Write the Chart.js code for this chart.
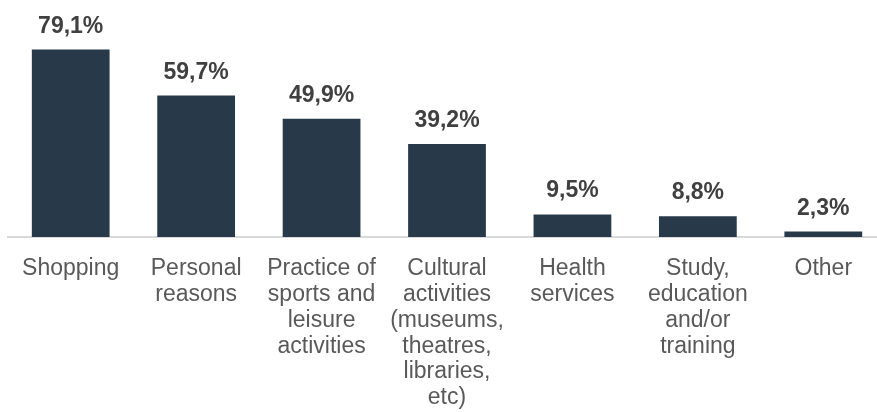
<!DOCTYPE html>
<html lang="en">
  <head>
    <meta charset="UTF-8">
    <title>Reasons</title>
    <script src="https://cdn.jsdelivr.net/npm/chart.js"></script>
    <style>
      html, body { margin: 0; padding: 0; background: #fff; overflow: hidden; }
      .chart-container { width: 886px; height: 412px; }
    </style>
  </head>
  <body>
    <div class="chart-container">
      <canvas id="reasonChart"></canvas>
    </div>
    <script>
      const categories = [
        ['Shopping'],
        ['Personal', 'reasons'],
        ['Practice of', 'sports and', 'leisure', 'activities'],
        ['Cultural', 'activities', '(museums,', 'theatres,', 'libraries,', 'etc)'],
        ['Health', 'services'],
        ['Study,', 'education', 'and/or', 'training'],
        ['Other']
      ];
      const shares = [79.1, 59.7, 49.9, 39.2, 9.5, 8.8, 2.3];

      // value labels above each bar, comma decimal
      const valueLabels = {
        id: 'valueLabels',
        afterDatasetsDraw(chart) {
          const ctx = chart.ctx;
          const meta = chart.getDatasetMeta(0);
          ctx.save();
          ctx.font = 'bold 23px "Liberation Sans", Arial, sans-serif';
          ctx.fillStyle = '#404040';
          ctx.textAlign = 'center';
          ctx.textBaseline = 'alphabetic';
          meta.data.forEach((bar, i) => {
            const txt = shares[i].toFixed(1).replace('.', ',') + '%';
            ctx.fillText(txt, bar.x, bar.y - 17);
          });
          ctx.restore();
        }
      };

      const ctx = document.getElementById('reasonChart').getContext('2d');
      new Chart(ctx, {
        type: 'bar',
        data: {
          labels: categories,
          datasets: [{
            data: shares,
            backgroundColor: '#283a4a',
            barPercentage: 0.62,
            categoryPercentage: 1
          }]
        },
        options: {
          responsive: true,
          maintainAspectRatio: false,
          animation: false,
          layout: { padding: { left: 8, right: 0, top: 0, bottom: 0 } },
          plugins: {
            legend: { display: false },
            tooltip: { enabled: false }
          },
          scales: {
            y: {
              display: false,
              min: 0,
              max: 100
            },
            x: {
              grid: { display: false },
              border: { display: true, color: '#d9d9d9', width: 2 },
              ticks: {
                autoSkip: false,
                maxRotation: 0,
                padding: 11,
                color: '#595959',
                font: { family: '"Liberation Sans", Arial, sans-serif', size: 23, lineHeight: 1.12 }
              },
              afterFit(scale) { scale.height = 175; }
            }
          }
        },
        plugins: [valueLabels]
      });
    </script>
  </body>
</html>
